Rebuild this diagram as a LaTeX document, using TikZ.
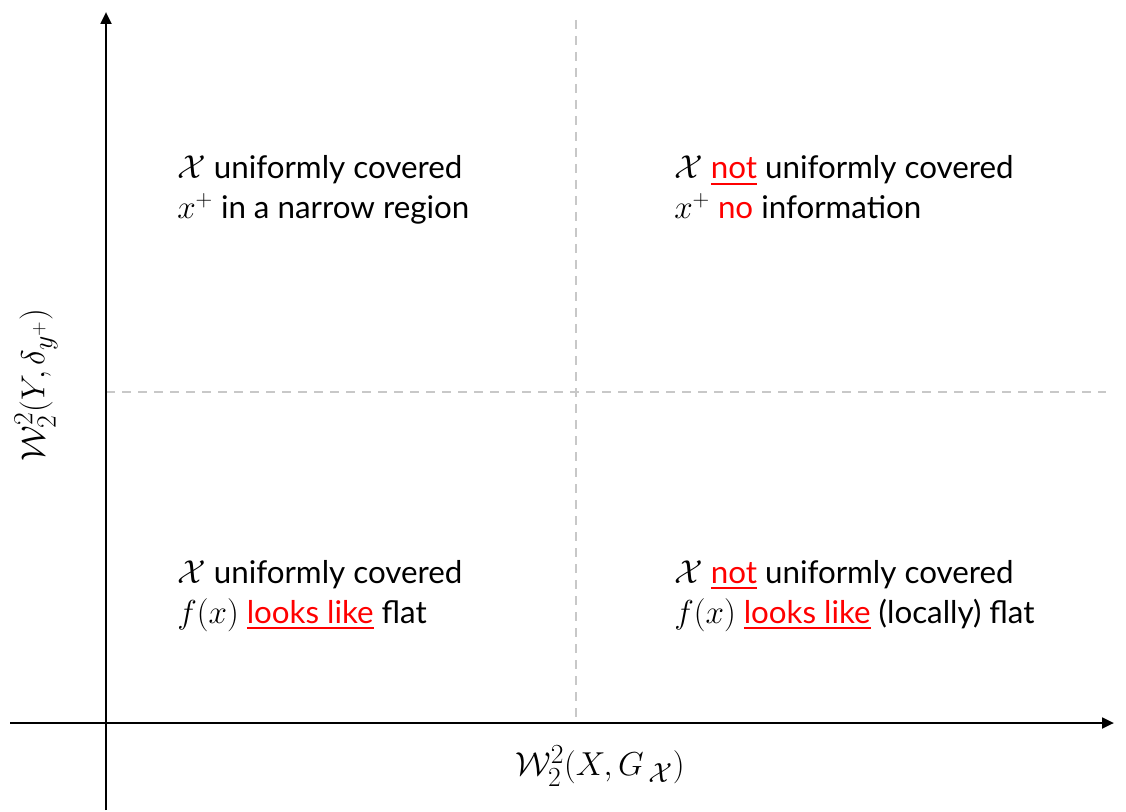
\documentclass[tikz,border=0pt]{standalone}
\usepackage{fontspec}
\setmainfont{Lato}
\usepackage{amsmath}
\usetikzlibrary{arrows.meta}
\definecolor{dashgray}{RGB}{200,200,200}
\newcommand{\rd}[1]{\textcolor{red}{#1}}
\newcommand{\rdu}[1]{\textcolor{red}{\underline{#1}}}
\newcommand{\mth}[1]{{\fontsize{26.5}{30}\selectfont$#1$}}
\begin{document}
\begin{tikzpicture}[x=0.75pt,y=-0.75pt,
  axis/.style={line width=2pt,-{Triangle[length=9pt,width=8pt]}},
  grid/.style={dashgray,line width=1.6pt,dash pattern=on 7pt off 5pt},
  txt/.style={anchor=base west,inner sep=0pt,align=left,font=\fontsize{23.5}{30}\selectfont},
  lbl/.style={inner sep=0pt,font=\fontsize{29}{32}\selectfont}]
\useasboundingbox (0,0) rectangle (1126,812);
\coordinate (ybot) at (106,810);
\coordinate (ytop) at (106,12);
\coordinate (xl) at (10,723);
\coordinate (xr) at (1114,723);
\coordinate (vt) at (576,20);
\coordinate (vb) at (576,723);
\coordinate (hl) at (106,392);
\coordinate (hr) at (1106,392);
\draw[grid] (vt) -- (vb);
\draw[grid] (hl) -- (hr);
\draw[axis] (ybot) -- (ytop);
\draw[axis] (xl) -- (xr);
\node[txt] (tl) at (177,219) {\mth{\mathcal{X}} uniformly covered\\\mth{x^{+}} in a narrow region};
\node[txt] (tr) at (674,219) {\mth{\mathcal{X}} \rdu{not} uniformly covered\\\mth{x^{+}} \rd{no} information};
\node[txt] (bl) at (177,623) {\mth{\mathcal{X}} uniformly covered\\\mth{f(x)} \rdu{looks like} flat};
\node[txt] (br) at (674,623) {\mth{\mathcal{X}} \rdu{not} uniformly covered\\\mth{f(x)} \rdu{looks like} (locally) flat};
\node[lbl] (xlab) at (600,766) {$\mathcal{W}_2^2(X,G_{\,\mathcal{X}})$};
\node[lbl,rotate=90] (ylab) at (36,385) {$\mathcal{W}_2^2(Y,\delta_{y^{+}})$};
\end{tikzpicture}
\end{document}
